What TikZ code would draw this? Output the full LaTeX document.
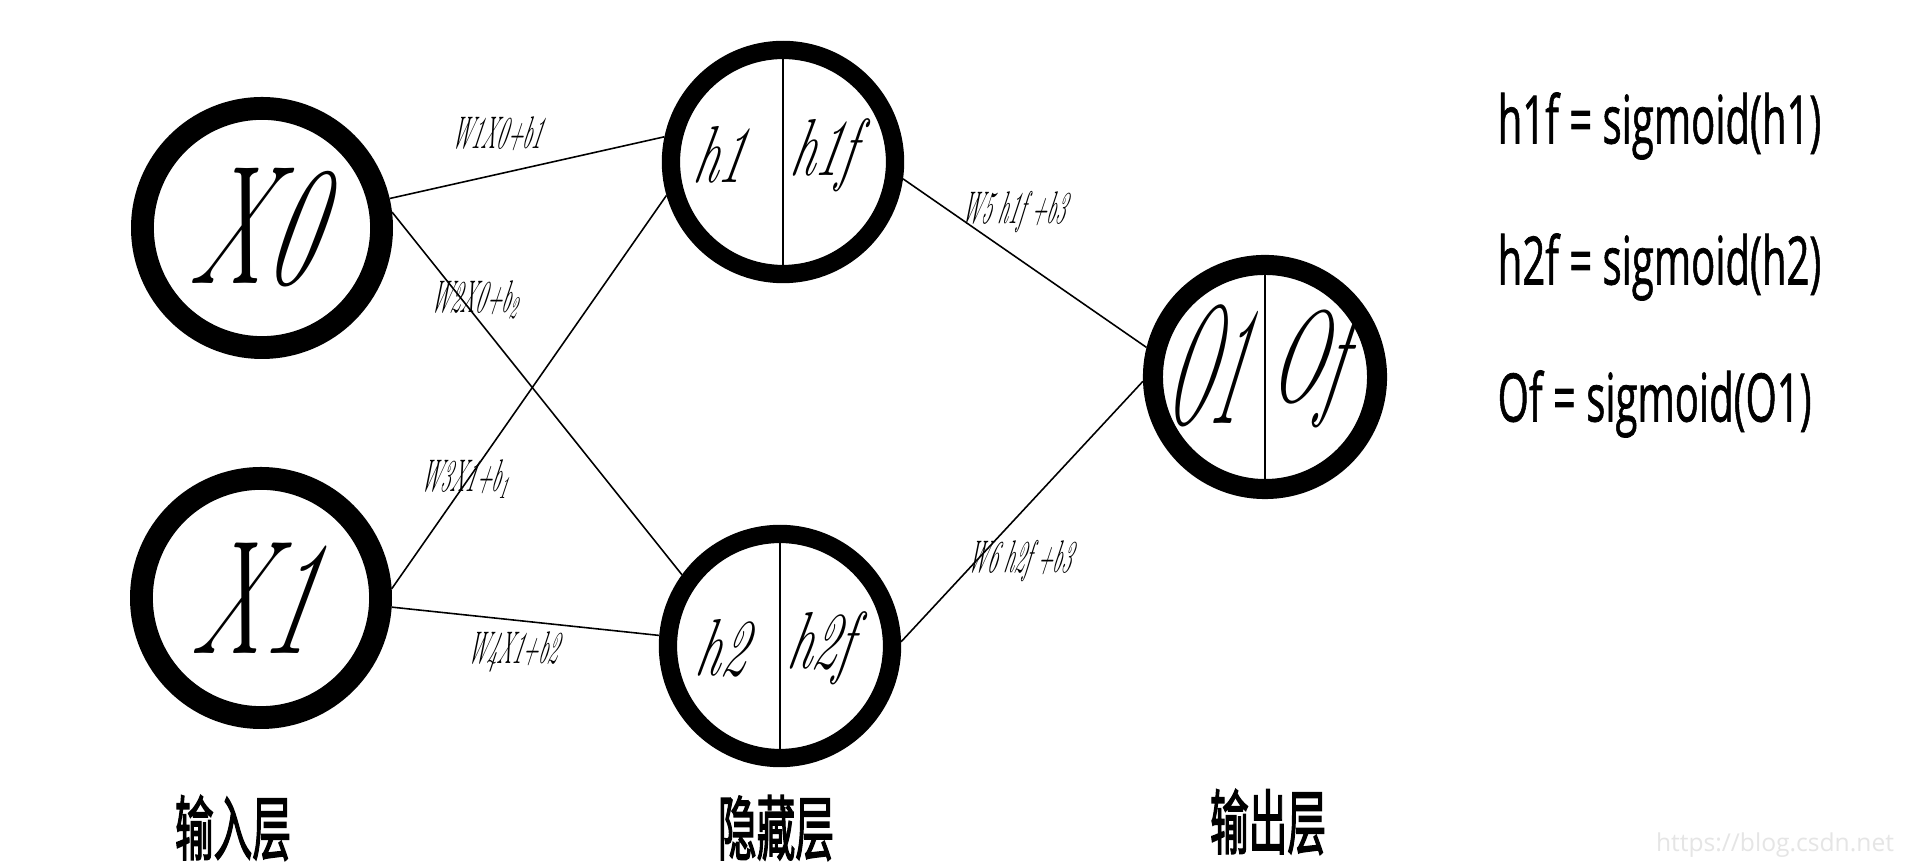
\documentclass[tikz,border=0pt]{standalone}
\usepackage{fontspec}
\usepackage{tikz}
\usetikzlibrary{calc,positioning}
\newfontfamily\eqfont{Open Sans}[FakeBold=1.2]
\newfontfamily\wmfont{Open Sans}
\newfontfamily\cjk{Noto Sans CJK SC}[FakeBold=2.5]
% narrow italic hand-written look
\newcommand{\hw}[3]{\scalebox{#1}[1]{\fontsize{#2}{#2}\selectfont\itshape #3}}
\newcommand{\lo}[1]{\raisebox{-0.35ex}{\fontsize{9}{9}\selectfont #1}}

\begin{document}
\begin{tikzpicture}[x=0.01cm, y=-0.01cm,
  inp/.style={circle, draw, line width=6.5pt, minimum size=2.39cm, inner sep=0pt},
  hid/.style={circle, draw, line width=5.2pt, minimum size=2.24cm, inner sep=0pt},
  ed/.style={line width=0.45pt},
  lb/.style={inner sep=0pt, xslant=0.22},
  fm/.style={anchor=west, inner sep=0pt, font=\eqfont\fontsize{19}{19}\selectfont},
  ly/.style={inner sep=0pt, font=\cjk\fontsize{20}{20}\selectfont}
]
\path[fill=white] (0,0) rectangle (1920,865);
\useasboundingbox (0,0) rectangle (1920,865);

% input layer
\node[inp] (x0) at (262,228) {};
\node[inp] (x1) at (261,598) {};
\node[lb] (x0t) at (x0) {\hw{0.6}{48}{X0}};
\node[lb] (x1t) at (x1) {\hw{0.6}{46}{X1}};
% hidden and output layer
\node[hid] (h1) at (783,162) {};
\node[hid] (h2) at (780,646) {};
\node[hid, line width=5.7pt] (o1) at (1265,377) {};
\draw[ed] (h1.north) -- (h1.south);
\draw[ed] (h2.north) -- (h2.south);
\draw[ed] (o1.north) -- (o1.south);
\node[lb] (h1a) at ($(h1)+(-60,-7)$) {\hw{0.6}{23}{h1}};
\node[lb] (h1b) at ($(h1)+(42,-7)$) {\hw{0.6}{23}{h1f}};
\node[lb] (h2a) at ($(h2)+(-55,2)$) {\hw{0.6}{23}{h2}};
\node[lb] (h2b) at ($(h2)+(42,2)$) {\hw{0.6}{23}{h2f}};
\node[lb] (o1a) at ($(o1)+(-53,-11)$) {\hw{0.36}{48}{O1}};
\node[lb] (o1b) at ($(o1)+(45,-8)$) {\hw{0.53}{37}{Of}};

% connections
\draw[ed] (x0.13) -- (h1.168);
\draw[ed] (x0.7) -- (h2.144);
\draw[ed] (x1.4) -- (h1.196);
\draw[ed] (x1.-4) -- (h2.175);
\draw[ed] (h1.-8) -- (o1.166);
\draw[ed] (h2.2) -- (o1.182);

% weights
\node[lb] (w1) at (499,134) {\hw{0.45}{13}{W1X0+b1}};
\node[lb] (w2) at (476,300) {\hw{0.45}{13}{W2X0+b\lo{2}}};
\node[lb] (w3) at (466,479) {\hw{0.45}{13}{W3X1+b\lo{1}}};
\node[lb] (w4) at (514,652) {\hw{0.45}{13}{W4X1+b2}};
\node[lb] (w5) at (1015,212) {\hw{0.44}{13}{W5 h1f +b3}};
\node[lb] (w6) at (1021,561) {\hw{0.44}{13}{W6 h2f +b3}};

% activations
\node[fm] (f1) at (1497,126) {\scalebox{0.6}[1]{h1f = sigmoid(h1)}};
\node[fm] (f2) at (1497,267) {\scalebox{0.6}[1]{h2f = sigmoid(h2)}};
\node[fm] (f3) at (1497,404) {\scalebox{0.6}[1]{Of = sigmoid(O1)}};

% layer names
\node[ly] (l1) at (233,828) {\scalebox{0.55}[1]{输入层}};
\node[ly] (l2) at (776,828) {\scalebox{0.55}[1]{隐藏层}};
\node[ly] (l3) at (1268,822) {\scalebox{0.55}[1]{输出层}};

\node[inner sep=0pt, text=gray!20, font=\wmfont\fontsize{7}{7}\selectfont] (wm) at (1775,845) {https://blog.csdn.net};
\end{tikzpicture}
\end{document}
